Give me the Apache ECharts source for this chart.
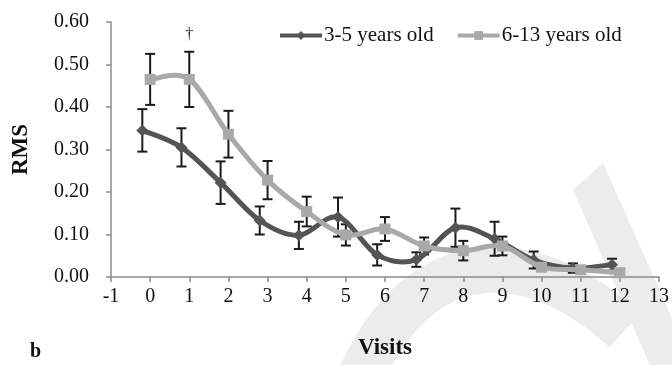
<!DOCTYPE html>
<html>
<head>
<meta charset="utf-8">
<script src="https://cdn.jsdelivr.net/npm/echarts@6/dist/echarts.min.js"></script>
<style>
  html, body { margin: 0; padding: 0; background: #fff; }
  #chart { width: 672px; height: 365px; }
</style>
</head>
<body>
<div id="chart"></div>
<script>
// Visit numbers on the x axis
const visits = [0, 1, 2, 3, 4, 5, 6, 7, 8, 9, 10, 11, 12];

// Mean RMS and standard error, 3-5 years old
const rmsYoung = [0.345, 0.305, 0.222, 0.133, 0.098, 0.141, 0.052, 0.041, 0.116, 0.090, 0.040, 0.021, 0.029];
const errYoung = [0.050, 0.045, 0.050, 0.033, 0.032, 0.046, 0.025, 0.017, 0.045, 0.040, 0.020, 0.011, 0.014];

// Mean RMS and standard error, 6-13 years old
const rmsOld = [0.465, 0.465, 0.336, 0.228, 0.154, 0.099, 0.113, 0.073, 0.062, 0.073, 0.023, 0.017, 0.010];
const errOld = [0.060, 0.065, 0.055, 0.045, 0.035, 0.025, 0.028, 0.020, 0.023, 0.022, 0.008, 0.005, 0.005];

// Visits flagged with a dagger above the older group's error bar
const flagged = [1];

const seriesNames = ['3-5 years old', '6-13 years old'];
const yTicks = [0, 0.1, 0.2, 0.3, 0.4, 0.5, 0.6];

const DARK = '#545454';
const LIGHT = '#a9a9a9';
const SHIFT_YOUNG = -0.2;   // the younger group is drawn slightly left of each visit
const FONT = '"Liberation Serif", "Times New Roman", serif';

const youngPts = visits.map((v, i) => [v + SHIFT_YOUNG, rmsYoung[i]]);
const oldPts = visits.map((v, i) => [v, rmsOld[i]]);
const youngBars = visits.map((v, i) => [v + SHIFT_YOUNG, rmsYoung[i] - errYoung[i], rmsYoung[i] + errYoung[i], 0]);
const oldBars = visits.map((v, i) => [v, rmsOld[i] - errOld[i], rmsOld[i] + errOld[i], flagged.indexOf(v) >= 0 ? 1 : 0]);

function renderErrorBar(params, api) {
  const x = api.value(0);
  const lo = api.coord([x, api.value(1)]);
  const hi = api.coord([x, api.value(2)]);
  const half = 5;
  const style = { stroke: '#1a1a1a', lineWidth: 2 };
  const children = [
    { type: 'line', shape: { x1: lo[0], y1: lo[1], x2: hi[0], y2: hi[1] }, style },
    { type: 'line', shape: { x1: hi[0] - half, y1: hi[1], x2: hi[0] + half, y2: hi[1] }, style },
    { type: 'line', shape: { x1: lo[0] - half, y1: lo[1], x2: lo[0] + half, y2: lo[1] }, style }
  ];
  if (api.value(3) === 1) {
    children.push({
      type: 'text',
      style: {
        text: '\u2020', x: hi[0], y: hi[1] - 9,
        align: 'center', verticalAlign: 'bottom',
        font: '16px ' + FONT, fill: '#222'
      }
    });
  }
  return { type: 'group', children };
}

// Smoothed connecting curve (Catmull-Rom style cubic segments between points)
function curveRenderer(points, color) {
  return function (params, api) {
    const i = params.dataIndex;
    if (i >= points.length - 1) return null;
    const P = k => api.coord(points[Math.max(0, Math.min(points.length - 1, k))]);
    const p0 = P(i - 1), p1 = P(i), p2 = P(i + 1), p3 = P(i + 2);
    const t = 1 / 6;
    return {
      type: 'bezierCurve',
      shape: {
        x1: p1[0], y1: p1[1],
        cpx1: p1[0] + (p2[0] - p0[0]) * t, cpy1: p1[1] + (p2[1] - p0[1]) * t,
        cpx2: p2[0] - (p3[0] - p1[0]) * t, cpy2: p2[1] - (p3[1] - p1[1]) * t,
        x2: p2[0], y2: p2[1]
      },
      style: { stroke: color, lineWidth: 5, fill: 'none', lineCap: 'round' }
    };
  };
}

const chart = echarts.init(document.getElementById('chart'), null, { renderer: 'canvas' });

chart.setOption({
  animation: false,
  backgroundColor: '#fff',
  graphic: [
    // faint background mark
    {
      type: 'polygon', z: -10, silent: true,
      shape: { points: [[573, 190], [603, 163], [672, 318], [672, 365], [650, 365]] },
      style: { fill: '#ececec' }
    },
    {
      type: 'bezierCurve', z: -10, silent: true,
      shape: { x1: 355, y1: 390, cpx1: 410, cpy1: 250, cpx2: 520, cpy2: 235, x2: 625, y2: 330 },
      style: { stroke: '#ececec', lineWidth: 46, fill: 'none' }
    },
    {
      type: 'text', left: 30, top: 342,
      style: { text: 'b', font: 'bold 20px ' + FONT, fill: '#111' }
    }
  ],
  legend: {
    left: 273, top: 20,
    itemWidth: 42, itemHeight: 11, itemGap: 22,
    data: seriesNames,
    lineStyle: { width: 4, opacity: 1 },
    textStyle: { fontFamily: FONT, fontSize: 21, color: '#111', padding: [0, 0, 0, -3] }
  },
  grid: { left: 111, right: 12, top: 22, bottom: 83, containLabel: false },
  xAxis: {
    type: 'value', min: -1, max: 13, interval: 1,
    name: 'Visits', nameLocation: 'middle', nameGap: 60,
    nameTextStyle: { fontFamily: FONT, fontSize: 23, fontWeight: 'bold', color: '#111' },
    axisLine: { onZero: false, lineStyle: { color: '#8a8a8a', width: 1.5 } },
    axisTick: { show: true, inside: false, length: 5, lineStyle: { color: '#8a8a8a', width: 1.5 } },
    axisLabel: { fontFamily: FONT, fontSize: 20, color: '#111', margin: 10 },
    splitLine: { show: false }
  },
  yAxis: {
    type: 'value', min: yTicks[0], max: yTicks[yTicks.length - 1], interval: 0.1,
    name: 'RMS', nameLocation: 'middle', nameGap: 78, nameRotate: 90,
    nameTextStyle: { fontFamily: FONT, fontSize: 23, fontWeight: 'bold', color: '#111' },
    axisLine: { show: true, onZero: false, lineStyle: { color: '#8a8a8a', width: 1.5 } },
    axisTick: { show: true, inside: false, length: 5, lineStyle: { color: '#8a8a8a', width: 1.5 } },
    axisLabel: { fontFamily: FONT, fontSize: 20, color: '#111', margin: 22, formatter: v => v.toFixed(2) },
    splitLine: { show: false }
  },
  series: [
    {
      type: 'custom', name: 'err-young', z: 1, silent: true,
      renderItem: renderErrorBar, data: youngBars, encode: { x: 0, y: [1, 2] }
    },
    {
      type: 'custom', name: 'err-old', z: 1, silent: true,
      renderItem: renderErrorBar, data: oldBars, encode: { x: 0, y: [1, 2] }
    },
    {
      type: 'custom', name: 'curve-young', z: 2, silent: true,
      renderItem: curveRenderer(youngPts, DARK), data: youngPts, encode: { x: 0, y: 1 }
    },
    {
      type: 'line', name: seriesNames[0], data: youngPts, z: 3,
      symbol: 'diamond', symbolSize: 12,
      lineStyle: { color: DARK, width: 5, opacity: 0 },
      itemStyle: { color: DARK }
    },
    {
      type: 'custom', name: 'curve-old', z: 4, silent: true,
      renderItem: curveRenderer(oldPts, LIGHT), data: oldPts, encode: { x: 0, y: 1 }
    },
    {
      type: 'line', name: seriesNames[1], data: oldPts, z: 5,
      symbol: 'rect', symbolSize: 11,
      lineStyle: { color: LIGHT, width: 5, opacity: 0 },
      itemStyle: { color: LIGHT }
    }
  ]
});
</script>
</body>
</html>
